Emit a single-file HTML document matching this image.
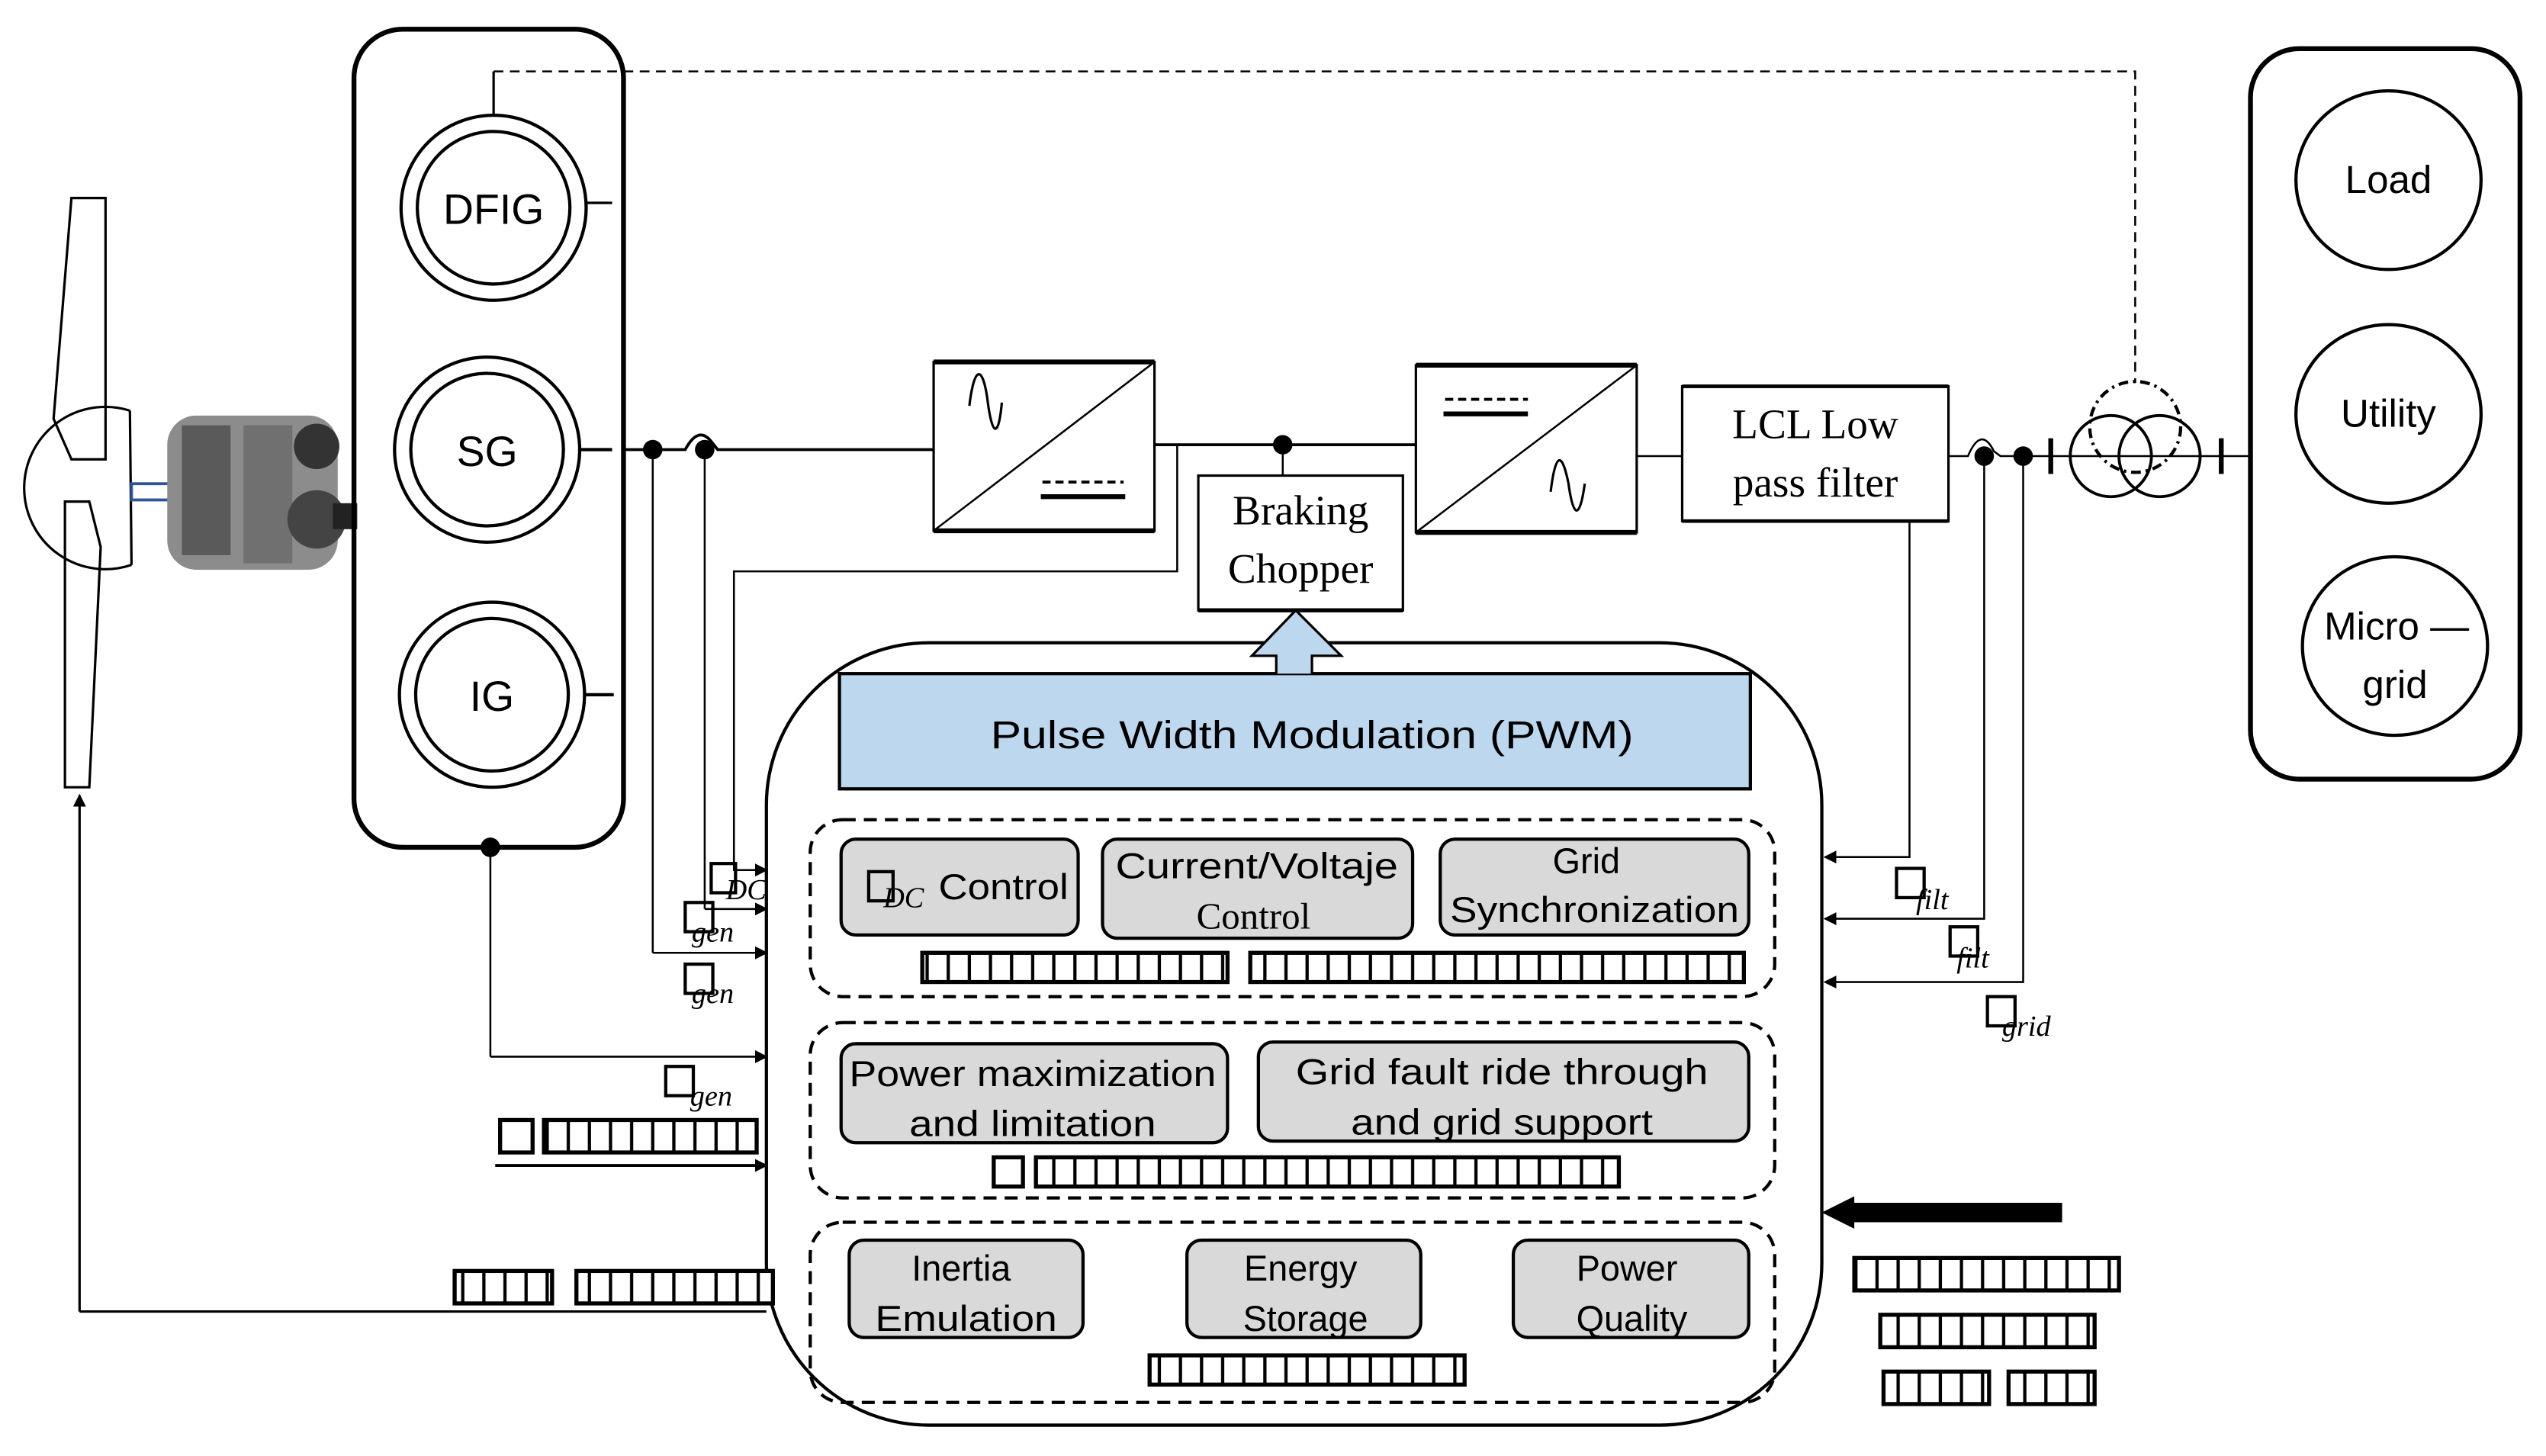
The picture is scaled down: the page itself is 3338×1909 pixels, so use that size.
<!DOCTYPE html>
<html><head><meta charset="utf-8"><style>
html,body{margin:0;padding:0;background:#fff;}
svg{display:block;}
text{font-family:"Liberation Sans","DejaVu Sans",sans-serif;fill:#000;}
.serif{font-family:"Liberation Serif",serif;}
</style></head><body>
<svg width="3338" height="1909" viewBox="0 0 1568 897" preserveAspectRatio="none" xmlns="http://www.w3.org/2000/svg">
<defs>
<pattern id="tofu" width="13" height="30" patternUnits="userSpaceOnUse"><rect x="0" y="0" width="13" height="30" fill="#fff"/><line x1="12" y1="0" x2="12" y2="30" stroke="#000" stroke-width="2"/></pattern>
<marker id="ah" markerWidth="8" markerHeight="8" refX="7" refY="4" orient="auto" markerUnits="userSpaceOnUse"><path d="M0,0 L8,4 L0,8 Z" fill="#000"/></marker>
</defs>
<g fill="none" stroke="#000" stroke-width="1.5">
<!-- turbine -->
<path d="M44,122 L65,122 L65,283 L44,283 L33,258 Z" />
<path d="M40,309 L55,309 L62,337 L55,485 L40,485 Z" />
<path d="M80,253 A50,50 0 1 0 81,348" />
<line x1="80" y1="253" x2="81" y2="348"/>
<rect x="81" y="298" width="42" height="10" stroke="#2f5597" stroke-width="1.8"/>
<line x1="49" y1="808" x2="49" y2="490" marker-end="url(#ah)"/>
<line x1="49" y1="808" x2="472" y2="808"/>
</g>
<!-- gearbox approx -->
<g>
<rect x="103" y="256" width="105" height="95" rx="18" fill="#8c8c8c"/>
<rect x="112" y="262" width="30" height="80" fill="#5a5a5a"/>
<rect x="150" y="262" width="30" height="85" fill="#707070"/>
<circle cx="195" cy="275" r="14" fill="#333"/>
<circle cx="195" cy="320" r="18" fill="#444"/>
<rect x="205" y="310" width="15" height="16" fill="#222"/>
</g>
<g fill="none" stroke="#000">
<!-- generator box -->
<rect x="218" y="18" width="166" height="504" rx="30" stroke-width="3"/>
<circle cx="304" cy="128" r="57" stroke-width="2"/><circle cx="304" cy="128" r="47" stroke-width="2"/>
<circle cx="300" cy="277" r="57" stroke-width="2"/><circle cx="300" cy="277" r="47" stroke-width="2"/>
<circle cx="303" cy="428" r="57" stroke-width="2"/><circle cx="303" cy="428" r="47" stroke-width="2"/>
<line x1="361" y1="125" x2="377" y2="125" stroke-width="1.5"/>
<line x1="357" y1="277" x2="377" y2="277" stroke-width="2"/>
<line x1="360" y1="428" x2="378" y2="428" stroke-width="2"/>
<line x1="304" y1="71" x2="304" y2="44" stroke-width="1.5"/>
<path d="M304,44 L1315,44 L1315,236" stroke-dasharray="6,4" stroke-width="1.2"/>
<!-- generator bottom -->
<line x1="302" y1="522" x2="302" y2="651" stroke-width="1.2"/>
<line x1="302" y1="651" x2="472" y2="651" stroke-width="1.2" marker-end="url(#ah)"/>
<line x1="305" y1="718" x2="472" y2="718" stroke-width="1.8" marker-end="url(#ah)"/>
<!-- main bus -->
<path d="M384,277 L422,277 Q430,262 438,272 L442,277 L575,277" stroke-width="1.8"/>
<line x1="402" y1="277" x2="402" y2="587" stroke-width="1.2"/>
<line x1="402" y1="587" x2="472" y2="587" stroke-width="1.2" marker-end="url(#ah)"/>
<line x1="434" y1="277" x2="434" y2="560" stroke-width="1.2"/>
<line x1="434" y1="560" x2="472" y2="560" stroke-width="1.2" marker-end="url(#ah)"/>
<path d="M725,274 L725,352 L452,352 L452,536 L472,536" stroke-width="1.2" marker-end="url(#ah)"/>
<!-- converter 1 -->
<rect x="575" y="223" width="136" height="104" stroke-width="1.5"/>
<line x1="575" y1="223" x2="711" y2="223" stroke-width="3"/><line x1="575" y1="327" x2="711" y2="327" stroke-width="3"/>
<line x1="711" y1="223" x2="575" y2="327" stroke-width="1.2"/>
<path d="M597,250 C600,225 605,225 608,245 C611,270 615,270 617,248" stroke-width="1.5"/>
<line x1="642" y1="297" x2="692" y2="297" stroke-width="1.8" stroke-dasharray="5,3"/>
<line x1="641" y1="306" x2="693" y2="306" stroke-width="3"/>
<line x1="711" y1="274" x2="872" y2="274" stroke-width="1.8"/>
<line x1="790" y1="274" x2="790" y2="293" stroke-width="1.2"/>
<!-- braking chopper -->
<rect x="738" y="293" width="126" height="83" stroke-width="1.5"/>
<line x1="738" y1="376" x2="864" y2="376" stroke-width="2.5"/>
<!-- converter 2 -->
<rect x="872" y="225" width="136" height="103" stroke-width="1.5"/>
<line x1="872" y1="225" x2="1008" y2="225" stroke-width="3"/><line x1="872" y1="328" x2="1008" y2="328" stroke-width="3"/>
<line x1="1008" y1="225" x2="872" y2="328" stroke-width="1.2"/>
<line x1="890" y1="246" x2="941" y2="246" stroke-width="1.8" stroke-dasharray="5,3"/>
<line x1="889" y1="255" x2="941" y2="255" stroke-width="3"/>
<path d="M955,303 C958,278 962,278 966,298 C969,320 973,320 976,298" stroke-width="1.5"/>
<line x1="1008" y1="281" x2="1036" y2="281" stroke-width="1.2"/>
<!-- LCL -->
<rect x="1036" y="238" width="164" height="83" stroke-width="1.5"/>
<line x1="1036" y1="238" x2="1200" y2="238" stroke-width="2.2"/><line x1="1036" y1="321" x2="1200" y2="321" stroke-width="2.2"/>
<path d="M1200,281 L1212,281 Q1220,262 1228,278 L1232,281 L1386,281" stroke-width="1.2"/>
<line x1="1263" y1="270" x2="1263" y2="292" stroke-width="3"/>
<line x1="1368" y1="270" x2="1368" y2="292" stroke-width="3"/>
<circle cx="1300" cy="281" r="25" stroke-width="1.8"/><circle cx="1330" cy="281" r="25" stroke-width="1.8"/>
<circle cx="1315" cy="263" r="28" stroke-width="2" stroke-dasharray="6,3,1.5,3"/>
<path d="M1176,321 L1176,528 L1124,528" stroke-width="1.2" marker-end="url(#ah)"/>
<path d="M1222,281 L1222,566 L1124,566" stroke-width="1.2" marker-end="url(#ah)"/>
<path d="M1246,281 L1246,605 L1124,605" stroke-width="1.2" marker-end="url(#ah)"/>
<!-- grid box -->
<rect x="1386" y="30" width="166" height="450" rx="30" stroke-width="3"/>
<ellipse cx="1471" cy="111" rx="57" ry="55" stroke-width="2"/>
<ellipse cx="1471" cy="255" rx="57" ry="55" stroke-width="2"/>
<ellipse cx="1475" cy="398" rx="57" ry="55" stroke-width="2"/>
<!-- controller -->
<rect x="472" y="396" width="650" height="482" rx="100" stroke-width="2"/>
</g>
<!-- dots -->
<g fill="#000">
<ellipse cx="402" cy="277" rx="6" ry="6"/><ellipse cx="434" cy="277" rx="6" ry="6"/>
<ellipse cx="790" cy="274" rx="6" ry="6"/>
<ellipse cx="1222" cy="281" rx="6" ry="6"/><ellipse cx="1246" cy="281" rx="6" ry="6"/>
<ellipse cx="302" cy="522" rx="6" ry="6"/>
<path d="M1122,747 L1142,737 L1142,741 L1270,741 L1270,753 L1142,753 L1142,757 Z"/>
</g>
<!-- PWM & blue arrow -->
<rect x="517" y="415" width="561" height="71" fill="#bdd7ee" stroke="#000" stroke-width="2"/>
<path d="M786,415 L786,404 L771,404 L798,376 L826,404 L808,404 L808,415" fill="#bdd7ee" stroke="#000" stroke-width="1.5"/>
<text x="808" y="461" font-size="24" text-anchor="middle" textLength="396" lengthAdjust="spacingAndGlyphs">Pulse Width Modulation (PWM)</text>
<!-- dashed groups -->
<g fill="none" stroke="#000" stroke-width="2" stroke-dasharray="8,5">
<rect x="499" y="505" width="594" height="109" rx="20"/>
<rect x="499" y="630" width="594" height="108" rx="20"/>
<rect x="499" y="753" width="594" height="111" rx="20"/>
</g>
<g fill="#d9d9d9" stroke="#000" stroke-width="2">
<rect x="518" y="517" width="146" height="59" rx="9"/>
<rect x="679" y="517" width="191" height="61" rx="9"/>
<rect x="887" y="517" width="190" height="59" rx="9"/>
<rect x="518" y="643" width="238" height="61" rx="9"/>
<rect x="775" y="642" width="302" height="61" rx="9"/>
<rect x="523" y="764" width="144" height="60" rx="9"/>
<rect x="731" y="764" width="144" height="60" rx="9"/>
<rect x="932" y="764" width="145" height="60" rx="9"/>
</g>
<g font-size="22" text-anchor="middle">
<text x="618" y="554" textLength="80" lengthAdjust="spacingAndGlyphs">Control</text>
<text x="774" y="541" textLength="174" lengthAdjust="spacingAndGlyphs">Current/Voltaje</text>
<text x="772" y="572" class="serif" font-size="23">Control</text>
<text x="977" y="538">Grid</text>
<text x="982" y="568" textLength="178" lengthAdjust="spacingAndGlyphs">Synchronization</text>
<text x="636" y="669" textLength="226" lengthAdjust="spacingAndGlyphs">Power maximization</text>
<text x="636" y="700" textLength="152" lengthAdjust="spacingAndGlyphs">and limitation</text>
<text x="925" y="668" textLength="254" lengthAdjust="spacingAndGlyphs">Grid  fault ride through</text>
<text x="925" y="699" textLength="186" lengthAdjust="spacingAndGlyphs">and grid support</text>
<text x="592" y="789">Inertia</text>
<text x="595" y="820" textLength="112" lengthAdjust="spacingAndGlyphs">Emulation</text>
<text x="801" y="789">Energy</text>
<text x="804" y="820">Storage</text>
<text x="1002" y="789">Power</text>
<text x="1005" y="820">Quality</text>
</g>
<g font-size="26" text-anchor="middle" class="serif">
<text x="801" y="323" class="serif">Braking</text>
<text x="801" y="359" class="serif">Chopper</text>
<text x="1118" y="270" class="serif">LCL Low</text>
<text x="1118" y="306" class="serif">pass filter</text>
</g>
<g font-size="26" text-anchor="middle">
<text x="304" y="138">DFIG</text>
<text x="300" y="287">SG</text>
<text x="303" y="438">IG</text>
<text x="1471" y="119" font-size="24">Load</text>
<text x="1471" y="263" font-size="24">Utility</text>
<text x="1476" y="394" font-size="24">Micro —</text>
<text x="1475" y="430" font-size="24">grid</text>
</g>
<!-- tofu boxes & math labels -->
<g stroke="#000" stroke-width="2" fill="none">
<rect x="535" y="537" width="15" height="18"/>
<rect x="438" y="532" width="15" height="18"/>
<rect x="422" y="556" width="17" height="18"/>
<rect x="422" y="594" width="17" height="18"/>
<rect x="410" y="657" width="17" height="18"/>
<rect x="1168" y="535" width="17" height="18"/>
<rect x="1201" y="571" width="17" height="18"/>
<rect x="1224" y="614" width="17" height="18"/>
</g>
<g font-family="Liberation Serif" font-style="italic" font-size="18">
<text x="544" y="559" class="serif">DC</text>
<text x="447" y="554" class="serif">DC</text>
<text x="426" y="580" class="serif">gen</text>
<text x="426" y="618" class="serif">gen</text>
<text x="425" y="681" class="serif">gen</text>
<text x="1180" y="560" class="serif">filt</text>
<text x="1205" y="596" class="serif">filt</text>
<text x="1233" y="638" class="serif">grid</text>
</g>
<g stroke="#000" stroke-width="2.5" fill="url(#tofu)">
<rect x="308" y="690" width="20" height="20" fill="#fff"/>
<rect x="335" y="690" width="131" height="20"/>
<rect x="280" y="783" width="60" height="20"/>
<rect x="355" y="783" width="121" height="20"/>
<rect x="568" y="587" width="188" height="18"/>
<rect x="770" y="587" width="304" height="18"/>
<rect x="612" y="713" width="18" height="18" fill="#fff"/>
<rect x="638" y="713" width="359" height="18"/>
<rect x="708" y="835" width="194" height="18"/>
<rect x="1142" y="775" width="163" height="20"/>
<rect x="1158" y="810" width="132" height="20"/>
<rect x="1160" y="845" width="65" height="20"/>
<rect x="1237" y="845" width="53" height="20"/>
</g>
</svg>
</body></html>
